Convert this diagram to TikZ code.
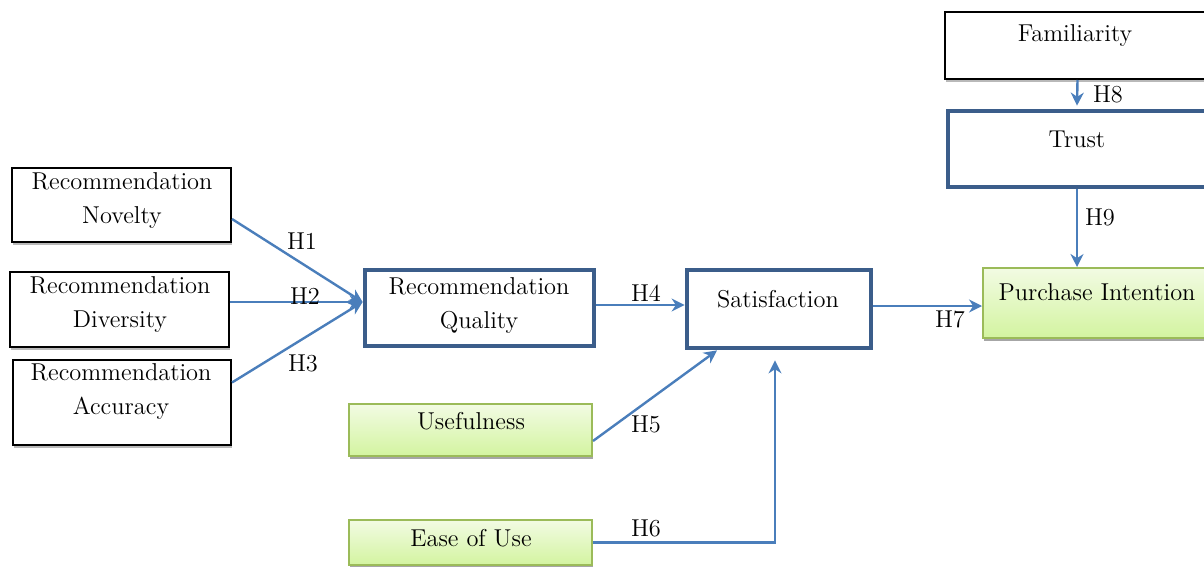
\documentclass[tikz,border=0pt]{standalone}
\usetikzlibrary{arrows.meta,shadows,calc}
\definecolor{arrowblue}{HTML}{4A7EBB}
\definecolor{boxblue}{HTML}{3B5D8A}
\definecolor{greenedge}{HTML}{9BBB59}
\definecolor{greentop}{HTML}{F2FBE3}
\definecolor{greenbot}{HTML}{D3F4A0}
\tikzset{
  txt/.style={font=\fontsize{12.2}{17}\selectfont, align=center, inner sep=0pt},
  plainbox/.style={draw=black, line width=1pt, fill=white, inner sep=0pt,
    drop shadow={shadow xshift=0.4pt, shadow yshift=-1.3pt, fill=gray!55, opacity=1}},
  thickbox/.style={draw=boxblue, line width=2.4pt, fill=white, inner sep=0pt},
  greenbox/.style={draw=greenedge, line width=1pt, top color=greentop, bottom color=greenbot, inner sep=0pt,
    drop shadow={shadow xshift=0.5pt, shadow yshift=-1.6pt, fill=gray!70, opacity=1}},
  conn/.style={draw=arrowblue, line width=1.2pt, -{Stealth[length=6.5pt,width=6.5pt]}},
  hlab/.style={font=\fontsize{12.2}{14}\selectfont, inner sep=0pt}
}
\begin{document}
\begin{tikzpicture}[x=0.5pt,y=-0.5pt]
\useasboundingbox (0,0) rectangle (1204,567);
% boxes (minimum sizes in pt = px/2)
\node[plainbox, minimum width=132.5pt, minimum height=33.5pt] (fam) at (1077.5,45.5) {};
\node[thickbox, minimum width=129pt, minimum height=38pt] (trust) at (1077,149) {};
\node[greenbox, minimum width=114pt, minimum height=35pt] (pi) at (1097,303) {};
\node[plainbox, minimum width=109.5pt, minimum height=37pt] (nov) at (121.5,205) {};
\node[plainbox, minimum width=109.5pt, minimum height=37.5pt] (div) at (119.5,309.5) {};
\node[plainbox, minimum width=109pt, minimum height=42.5pt] (acc) at (122,402.5) {};
\node[thickbox, minimum width=114.5pt, minimum height=38pt] (rq) at (479.5,308) {};
\node[thickbox, minimum width=92pt, minimum height=39pt] (sat) at (779,309) {};
\node[greenbox, minimum width=121.5pt, minimum height=26pt] (use) at (470.5,430) {};
\node[greenbox, minimum width=121.5pt, minimum height=22.5pt] (ease) at (470.5,542.5) {};
% texts
\node[txt] (tfam) at (1075,36) {Familiarity};
\node[txt] (ttrust) at (1077,139) {Trust};
\node[txt] (tpi) at (1097,292) {Purchase Intention};
\node[txt] (tnov) at (122,201) {Recommendation\\Novelty};
\node[txt] (tdiv) at (120,305) {Recommendation\\Diversity};
\node[txt] (tacc) at (121,392) {Recommendation\\Accuracy};
\node[txt] (trq) at (479,306) {Recommendation\\Quality};
\node[txt] (tsat) at (778,299) {Satisfaction};
\node[txt] (tuse) at (471,421) {Usefulness};
\node[txt] (tease) at (471,538) {Ease of Use};
% connectors
\coordinate (conv) at ([yshift=3pt]rq.west);
\draw[conn] ([yshift=-7pt]nov.east) -- (conv);
\draw[conn] (div.east |- conv) -- (conv);
\draw[conn] ([yshift=10pt]acc.east) -- (conv);
\draw[conn] ([yshift=1.5pt]rq.east) -- ([yshift=1.5pt]rq.east -| sat.west);
\draw[conn] ([yshift=-5.5pt]use.east) -- ([xshift=-31pt]sat.south);
\coordinate (satin) at ([xshift=-2pt,yshift=-5pt]sat.south);
\draw[conn] (ease.east) -- (ease.east -| satin) -- (satin);
\draw[conn] ([yshift=1.5pt]sat.east) -- ([yshift=1.5pt]sat.east -| pi.west);
\draw[conn] (fam.south) -- ([yshift=1.5pt]trust.north);
\draw[conn] (trust.south) -- (trust.south |- pi.north);
% labels
\node[hlab] (h1) at (302,241) {H1};
\node[hlab] (h2) at (305,296) {H2};
\node[hlab] (h3) at (303,363) {H3};
\node[hlab] (h4) at (646,293) {H4};
\node[hlab] (h5) at (646,424) {H5};
\node[hlab] (h6) at (646,528) {H6};
\node[hlab] (h7) at (950,319) {H7};
\node[hlab] (h8) at (1108,94) {H8};
\node[hlab] (h9) at (1100,217) {H9};
\end{tikzpicture}
\end{document}
